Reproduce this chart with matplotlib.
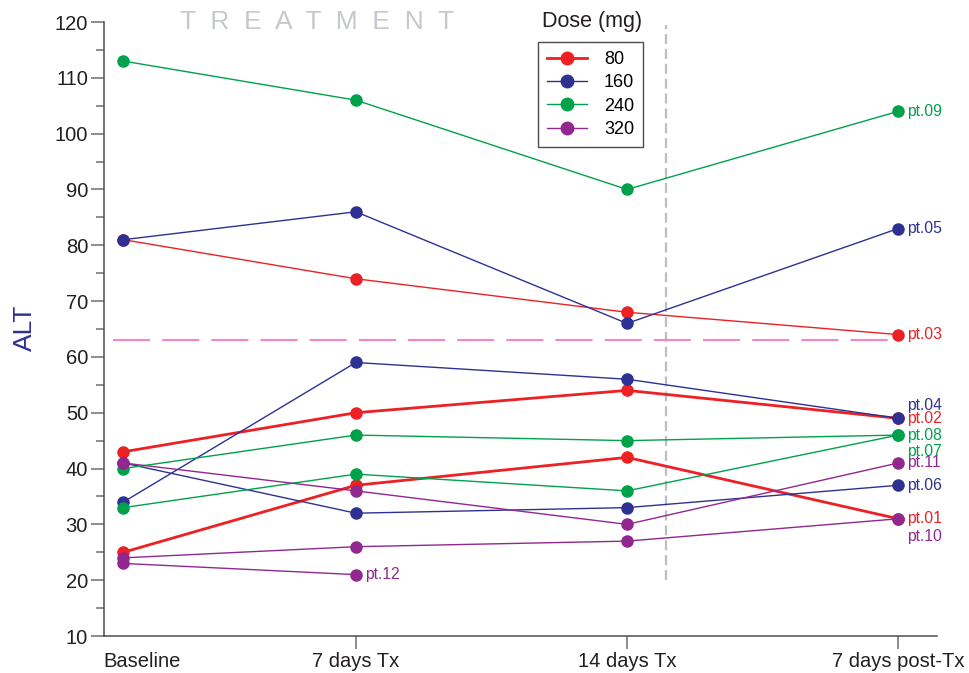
import numpy as np
import matplotlib
matplotlib.use("Agg")
import matplotlib.pyplot as plt
from matplotlib.lines import Line2D
from matplotlib.transforms import ScaledTranslation

plt.rcParams['font.family'] = ['Liberation Sans', 'DejaVu Sans']

# Данные
timepoints = ["Baseline", "7 days Tx", "14 days Tx", "7 days post-Tx"]
day_x = [1, 7, 14, 21]

pt01 = [25, 37, 42, 31]
pt02 = [43, 50, 54, 49]
pt03 = [81, 74, 68, 64]
pt04 = [34, 59, 56, 49]
pt05 = [81, 86, 66, 83]
pt06 = [41, 32, 33, 37]
pt07 = [33, 39, 36, 46]
pt08 = [40, 46, 45, 46]
pt09 = [113, 106, 90, 104]
pt10 = [24, 26, 27, 31]
pt11 = [41, 36, 30, 41]
pt12 = [23, 21, np.nan, np.nan]

patient_names = ["pt.01", "pt.02", "pt.03", "pt.04", "pt.05", "pt.06",
                 "pt.07", "pt.08", "pt.09", "pt.10", "pt.11", "pt.12"]
patient_dose = [80, 80, 80, 160, 160, 160, 240, 240, 240, 320, 320, 320]
patient_values = [pt01, pt02, pt03, pt04, pt05, pt06,
                  pt07, pt08, pt09, pt10, pt11, pt12]

doses = [80, 160, 240, 320]
alt_limit = 63
treatment_end = 15

# Стили
dose_colors = {80: '#ED2024', 160: '#2E3192', 240: '#00A14B', 320: '#92278F'}
thick = {"pt.01", "pt.02"}
label_dy = {"pt.04": 9.5, "pt.07": -12, "pt.10": -13}  # сдвиг подписей, pt

fig = plt.figure(figsize=(9.69, 6.73), dpi=100)
ax = fig.add_axes([104 / 969, 37 / 673, 833 / 969, 614 / 673])

for name, dose, vals in zip(patient_names, patient_dose, patient_values):
    c = dose_colors[dose]
    lw = 2.0 if name in thick else 1.0
    ax.plot(day_x, vals, color=c, lw=lw, marker='o', ms=8, mec=c, mfc=c,
            zorder=3, clip_on=False)
    # подпись у последней точки
    idx = max(i for i, v in enumerate(vals) if not np.isnan(v))
    ax.annotate(name, (day_x[idx], vals[idx]), xytext=(6.5, label_dy.get(name, 0)),
                textcoords='offset points', va='center', ha='left',
                color=c, fontsize=11.3, annotation_clip=False)

# граница нормы ALT
ax.plot([0.74, 20.74], [alt_limit, alt_limit], color='#F487C3', lw=1.5,
        dashes=(17.8, 5.8), zorder=2)
# конец лечения
ax.plot([treatment_end, treatment_end], [20, 119.5], color='#BCBEC0', lw=1.6,
        dashes=(4.5, 2.2), zorder=1)

ax.set_xlim(0.5, 22)
ax.set_ylim(10, 120)
ax.set_yticks(np.arange(10, 121, 10))
ax.set_yticks(np.arange(15, 120, 10), minor=True)
ax.set_xticks(day_x, timepoints)

for s in ['top', 'right']:
    ax.spines[s].set_visible(False)
for s in ['left', 'bottom']:
    ax.spines[s].set_color('#4D4D4D')
    ax.spines[s].set_linewidth(1.1)

ax.tick_params(axis='both', which='major', direction='out', length=9.5, width=1.1,
               color='#6D6E71', labelsize=14.5, labelcolor='#231F20', pad=2)
ax.tick_params(axis='y', which='minor', direction='out', length=5.5, width=1.1,
               color='#6D6E71')
ax.xaxis.get_major_ticks()[0].tick1line.set_visible(False)

lab0 = ax.get_xticklabels()[0]
lab0.set_ha('left')
lab0.set_transform(lab0.get_transform() + ScaledTranslation(-0.20, 0, fig.dpi_scale_trans))

ax.set_ylabel("ALT", color='#2E3192', fontsize=19)
ax.yaxis.set_label_coords(-67 / 833, (673 - 328 - 37) / 614)

fig.text(180 / 969, 1 - 22 / 673, "T  R  E  A  T  M  E  N  T", color='#C5C8CE',
         fontsize=19, ha='left', va='center')

# легенда
handles = []
for d in doses:
    lw = 2.0 if d == 80 else 1.0
    handles.append(Line2D([], [], color=dose_colors[d], lw=lw, marker='o', ms=9))
leg = ax.legend(handles, [str(d) for d in doses], loc='upper left',
                bbox_to_anchor=(538 / 969, 1 - 42 / 673), bbox_transform=fig.transFigure,
                fontsize=13, frameon=True, fancybox=False, borderaxespad=0,
                handlelength=2.2, handletextpad=0.95, labelspacing=0.35,
                borderpad=0.5)
leg.get_frame().set_edgecolor('#231F20')
leg.get_frame().set_linewidth(1.0)
fig.text(592 / 969, 1 - 21 / 673, "Dose (mg)", fontsize=15.5, ha='center', va='center',
         color='#231F20')

plt.savefig("out.png", dpi=100)
